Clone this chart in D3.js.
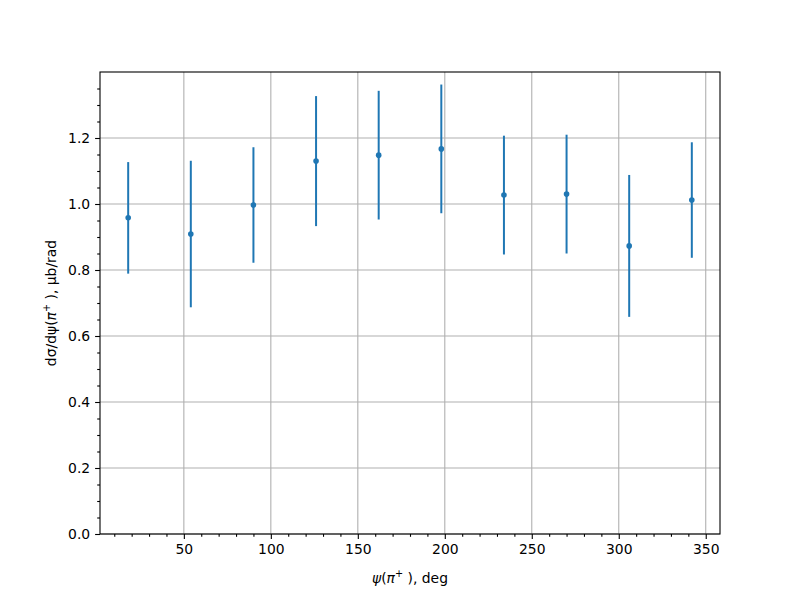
<!DOCTYPE html>
<html>
<head>
<meta charset="utf-8">
<script src="https://cdn.jsdelivr.net/npm/d3@7"></script>
<style>
  body { margin: 0; background: #fff; }
  text { font-family: "DejaVu Sans", sans-serif; }
</style>
</head>
<body>
<svg id="chart"></svg>
<script>
// angle bins (deg), cross section and symmetric errors
const psi = [18, 54, 90, 126, 162, 198, 234, 270, 306, 342];
const dsigma = [0.958, 0.909, 0.997, 1.130, 1.148, 1.167, 1.027, 1.030, 0.873, 1.012];
const err = [0.169, 0.222, 0.175, 0.197, 0.195, 0.195, 0.180, 0.180, 0.215, 0.175];
const xTicks = [50, 100, 150, 200, 250, 300, 350];
const yTicks = [0.0, 0.2, 0.4, 0.6, 0.8, 1.0, 1.2];

const margin = { top: 72, right: 80, bottom: 66, left: 100 };
const width = 800 - margin.left - margin.right;
const height = 600 - margin.top - margin.bottom;

const svg = d3.select("#chart")
    .attr("width", 800)
    .attr("height", 600)
    .append("g")
    .attr("transform", "translate(" + margin.left + "," + margin.top + ")");

const x = d3.scaleLinear().domain([1.8, 358.2]).range([0, width]);
const y = d3.scaleLinear().domain([0, 1.4]).range([height, 0]);

// grid
svg.append("g").selectAll("line")
    .data(xTicks).enter().append("line")
    .attr("x1", d => x(d)).attr("x2", d => x(d))
    .attr("y1", 0).attr("y2", height)
    .attr("stroke", "#b0b0b0").attr("stroke-width", 1.1);
svg.append("g").selectAll("line")
    .data(yTicks).enter().append("line")
    .attr("x1", 0).attr("x2", width)
    .attr("y1", d => y(d)).attr("y2", d => y(d))
    .attr("stroke", "#b0b0b0").attr("stroke-width", 1.1);

// minor ticks
const xMinor = d3.range(10, 360, 10).filter(d => d % 50 !== 0);
const yMinor = d3.range(0.05, 1.4, 0.05).filter(d => Math.abs(d * 5 - Math.round(d * 5)) > 1e-6);

svg.append("g")
    .attr("transform", "translate(0," + height + ")")
    .call(d3.axisBottom(x).tickValues(xTicks).tickSize(4.9).tickPadding(4.9).tickFormat(d3.format("d")));
svg.append("g")
    .attr("transform", "translate(0," + height + ")")
    .call(d3.axisBottom(x).tickValues(xMinor).tickSize(2.8).tickFormat(""));

svg.append("g")
    .call(d3.axisLeft(y).tickValues(yTicks).tickSize(4.9).tickPadding(4.9).tickFormat(d3.format(".1f")));
svg.append("g")
    .call(d3.axisLeft(y).tickValues(yMinor).tickSize(2.8).tickFormat(""));

svg.selectAll(".domain").remove();
svg.selectAll(".tick line").attr("stroke", "#000").attr("stroke-width", 1.1);
svg.selectAll(".tick text").attr("font-size", "13.9px").attr("fill", "#000")
    .attr("font-family", "DejaVu Sans, sans-serif");

// frame
svg.append("rect")
    .attr("width", width).attr("height", height)
    .attr("fill", "none").attr("stroke", "#000").attr("stroke-width", 1.1);

// error bars
const pts = psi.map((p, i) => ({ p: p, v: dsigma[i], e: err[i] }));
svg.append("g").selectAll("line")
    .data(pts).enter().append("line")
    .attr("x1", d => x(d.p)).attr("x2", d => x(d.p))
    .attr("y1", d => y(d.v - d.e)).attr("y2", d => y(d.v + d.e))
    .attr("stroke", "#1f77b4").attr("stroke-width", 2);
svg.append("g").selectAll("circle")
    .data(pts).enter().append("circle")
    .attr("cx", d => x(d.p)).attr("cy", d => y(d.v))
    .attr("r", 2.8)
    .attr("fill", "#1f77b4");

// axis labels
const xl = svg.append("text")
    .attr("x", width / 2).attr("y", height + 49)
    .attr("text-anchor", "middle").attr("font-size", "13.9px");
xl.append("tspan").attr("font-style", "italic").text("ψ");
xl.append("tspan").text("(");
xl.append("tspan").attr("font-style", "italic").text("π");
xl.append("tspan").attr("font-size", "9.7px").attr("dy", -6).text("+");
xl.append("tspan").attr("dy", 6).text(" ), deg");

const yl = svg.append("text")
    .attr("transform", "translate(" + (-44) + "," + (height / 2) + ") rotate(-90)")
    .attr("text-anchor", "middle").attr("font-size", "13.9px");
yl.append("tspan").text("dσ/dψ(");
yl.append("tspan").attr("font-style", "italic").text("π");
yl.append("tspan").attr("font-size", "9.7px").attr("dy", -6).text("+");
yl.append("tspan").attr("dy", 6).text(" ), μb/rad");
</script>
</body>
</html>
